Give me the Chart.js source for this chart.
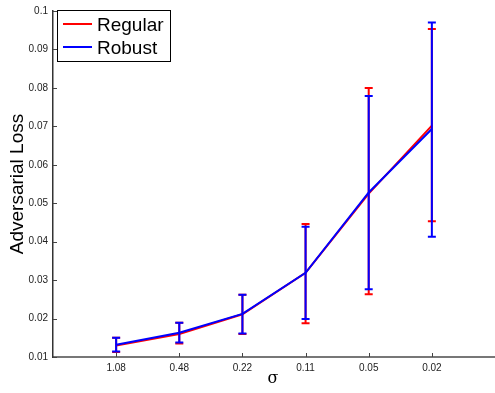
<!DOCTYPE html>
<html>
<head>
<meta charset="utf-8">
<script src="https://cdn.jsdelivr.net/npm/chart.js@4.4.1/dist/chart.umd.min.js"></script>
<style>
  html, body { margin: 0; padding: 0; background: #fff; }
  #wrap { width: 495px; height: 393px; position: relative; }
</style>
</head>
<body>
<div id="wrap"><canvas id="cLoss"></canvas></div>
<script>
/* ── Data ── */
const sigmaLabels = ['1.08', '0.48', '0.22', '0.11', '0.05', '0.02'];

const regularMean = [0.0130, 0.0160, 0.0211, 0.0319, 0.0525, 0.0702];
const regularLow  = [0.0113, 0.0135, 0.0160, 0.0188, 0.0263, 0.0453];
const regularHigh = [0.0150, 0.0189, 0.0262, 0.0446, 0.0800, 0.0953];

const robustMean  = [0.0132, 0.0163, 0.0212, 0.0319, 0.0528, 0.0693];
const robustLow   = [0.0114, 0.0138, 0.0161, 0.0199, 0.0276, 0.0413];
const robustHigh  = [0.0150, 0.0189, 0.0262, 0.0439, 0.0779, 0.0970];

const toPts = arr => arr.map((v, i) => ({ x: i + 1, y: v }));

/* ── Error bars, drawn right after each line ── */
const errorBars = {
  id: 'errorBars',
  afterDatasetDraw(chart, args) {
    const ds = chart.data.datasets[args.index];
    if (!ds.errLow) return;
    const { ctx, scales: { x, y } } = chart;
    ctx.save();
    ctx.strokeStyle = ds.borderColor;
    ctx.lineWidth = 2;
    ds.errLow.forEach((lo, i) => {
      const px = x.getPixelForValue(i + 1);
      const pLo = y.getPixelForValue(lo);
      const pHi = y.getPixelForValue(ds.errHigh[i]);
      ctx.beginPath();
      ctx.moveTo(px, pLo); ctx.lineTo(px, pHi);
      ctx.moveTo(px - 4, pLo); ctx.lineTo(px + 4, pLo);
      ctx.moveTo(px - 4, pHi); ctx.lineTo(px + 4, pHi);
      ctx.stroke();
    });
    ctx.restore();
  }
};

/* ── Inward tick marks + boxed legend + axis titles ── */
const decor = {
  id: 'decor',
  afterDraw(chart) {
    const { ctx, chartArea: a, scales: { x, y } } = chart;
    ctx.save();
    ctx.strokeStyle = '#444';
    ctx.lineWidth = 1;
    ctx.beginPath();
    y.ticks.forEach(t => {
      const py = Math.round(y.getPixelForValue(t.value)) + 0.5;
      ctx.moveTo(a.left, py); ctx.lineTo(a.left + 4, py);
    });
    x.ticks.forEach(t => {
      const px = Math.round(x.getPixelForValue(t.value)) + 0.5;
      ctx.moveTo(px, a.bottom); ctx.lineTo(px, a.bottom - 4);
    });
    ctx.stroke();

    // axis titles
    ctx.fillStyle = '#000';
    ctx.textAlign = 'center';
    ctx.textBaseline = 'middle';
    ctx.font = '16px "DejaVu Serif", serif';
    ctx.fillText('σ', (a.left + a.right) / 2 - 1, 379);
    ctx.save();
    ctx.translate(18, (a.top + a.bottom) / 2);
    ctx.rotate(-Math.PI / 2);
    ctx.font = '19px "Liberation Sans", Arial, sans-serif';
    ctx.fillText('Adversarial Loss', 0, 0);
    ctx.restore();

    // legend
    ctx.textAlign = 'left';
    ctx.fillStyle = '#fff';
    ctx.fillRect(57, 10, 113, 51);
    ctx.strokeStyle = '#000';
    ctx.strokeRect(57.5, 10.5, 113, 51);
    ctx.lineWidth = 2;
    [['Regular', '#ff0000', 24, 31], ['Robust', '#0000ff', 47, 54]].forEach(([txt, col, ly, by]) => {
      ctx.strokeStyle = col;
      ctx.beginPath();
      ctx.moveTo(63, ly); ctx.lineTo(92, ly);
      ctx.stroke();
      ctx.fillStyle = '#000';
      ctx.font = '19px "Liberation Sans", Arial, sans-serif';
      ctx.textBaseline = 'alphabetic';
      ctx.fillText(txt, 97, by);
    });
    ctx.restore();
  }
};

new Chart(document.getElementById('cLoss'), {
  type: 'line',
  data: {
    datasets: [
      {
        label: 'Regular',
        data: toPts(regularMean),
        errLow: regularLow,
        errHigh: regularHigh,
        borderColor: '#ff0000',
        borderWidth: 2,
        pointRadius: 0,
        tension: 0,
        order: 2
      },
      {
        label: 'Robust',
        data: toPts(robustMean),
        errLow: robustLow,
        errHigh: robustHigh,
        borderColor: '#0000ff',
        borderWidth: 2,
        pointRadius: 0,
        tension: 0,
        order: 1
      }
    ]
  },
  options: {
    responsive: true,
    maintainAspectRatio: false,
    animation: false,
    layout: { padding: { top: 5, right: 0, left: 0, bottom: 0 } },
    plugins: { legend: { display: false }, tooltip: { enabled: false } },
    scales: {
      x: {
        type: 'linear',
        min: 0,
        max: 7,
        afterFit: s => { s.height = 36; },
        afterBuildTicks: s => { s.ticks = sigmaLabels.map((_, i) => ({ value: i + 1 })); },
        grid: { display: false, drawTicks: false },
        border: { color: '#777', width: 2 },
        ticks: {
          padding: 5,
          font: { size: 10, family: '"Liberation Sans", Arial, sans-serif' },
          color: '#222',
          callback: v => sigmaLabels[v - 1] || ''
        }
      },
      y: {
        min: 0.01,
        max: 0.1,
        afterFit: s => { s.width = 53; },
        grid: { display: false, drawTicks: false },
        border: { color: '#333', width: 1.5 },
        ticks: {
          stepSize: 0.01,
          padding: 5,
          font: { size: 10, family: '"Liberation Sans", Arial, sans-serif' },
          color: '#222',
          callback: v => String(Math.round(v * 100) / 100)
        }
      }
    }
  },
  plugins: [errorBars, decor]
});
</script>
</body>
</html>
